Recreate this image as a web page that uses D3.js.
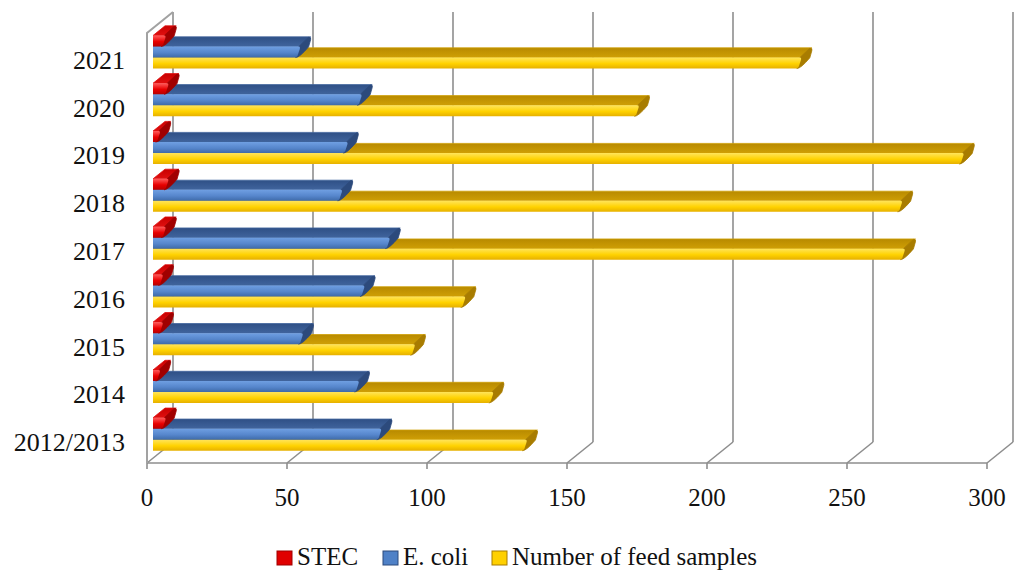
<!DOCTYPE html>
<html>
<head>
<meta charset="utf-8">
<script src="https://cdn.jsdelivr.net/npm/d3@7"></script>
<style>
  html, body { margin: 0; padding: 0; background: #ffffff; }
  svg { display: block; }
  text { font-family: "Palatino Linotype", "Book Antiqua", "Liberation Serif", "DejaVu Serif", serif; fill: #111; }
</style>
</head>
<body>
<svg id="chart" width="1018" height="572"></svg>
<script>
// Categories, top to bottom as drawn
const categories = ["2021", "2020", "2019", "2018", "2017", "2016", "2015", "2014", "2012/2013"];
// Series values per category
const stec        = [4, 5, 2, 5, 4, 3, 3, 2, 4];
const ecoli       = [52, 74, 69, 67, 84, 75, 53, 73, 81];
const feedSamples = [231, 173, 289, 267, 268, 111, 93, 121, 133];
const seriesNames = ["STEC", "E. coli", "Number of feed samples"];
const xTicks = [0, 50, 100, 150, 200, 250, 300];

const seriesValues = [stec, ecoli, feedSamples];

const svg = d3.select("#chart");
const defs = svg.append("defs");

// front plane of the 3D box
const x = d3.scaleLinear().domain([0, 300]).range([147, 987]);
const y = d3.scaleBand().domain(categories).range([33, 463]);

// depth projection of the walls and of the bars
const wall = { dx: 26, dy: -21 };
const barOff = { dx: 6, dy: -4.85 };
const barDepth = { dx: 12, dy: -9.7 };
const barH = 11;
const sub = d3.scaleBand().domain(seriesNames).range([0, barH * 3]);

// shading per series: front face, top face, end face
const palette = {
  "STEC":   { front: ["#ff5a5a", "#e80000", "#b80000"], top: ["#c80000", "#e01010"], end: "#a00000", key: "#e00000" },
  "E. coli":{ front: ["#6f9fe2", "#5686cc", "#3e6aa8"], top: ["#2f5086", "#40649d"], end: "#2c4a7c", key: "#4f81c7" },
  "Number of feed samples": { front: ["#ffe45a", "#ffd200", "#e6b000"], top: ["#b88a00", "#cf9f05"], end: "#a87c00", key: "#ffd000" }
};

seriesNames.forEach((s, i) => {
  const p = palette[s];
  const gf = defs.append("linearGradient").attr("id", "front" + i).attr("x1", 0).attr("y1", 0).attr("x2", 0).attr("y2", 1);
  gf.append("stop").attr("offset", "0%").attr("stop-color", p.front[0]);
  gf.append("stop").attr("offset", "55%").attr("stop-color", p.front[1]);
  gf.append("stop").attr("offset", "100%").attr("stop-color", p.front[2]);
  const gt = defs.append("linearGradient").attr("id", "top" + i).attr("x1", 0).attr("y1", 0).attr("x2", 0).attr("y2", 1);
  gt.append("stop").attr("offset", "0%").attr("stop-color", p.top[0]);
  gt.append("stop").attr("offset", "100%").attr("stop-color", p.top[1]);
});

const grid = svg.append("g").attr("fill", "none").attr("stroke", "#8e8e8e").attr("stroke-width", 1.6);
const y0 = 463, yTop = 33;

// back wall verticals and floor diagonals
xTicks.forEach(t => {
  const fx = x(t);
  grid.append("line").attr("x1", fx + wall.dx).attr("y1", y0 + wall.dy).attr("x2", fx + wall.dx).attr("y2", yTop + wall.dy);
  grid.append("line").attr("x1", fx).attr("y1", y0).attr("x2", fx + wall.dx).attr("y2", y0 + wall.dy);
  grid.append("line").attr("x1", fx).attr("y1", y0).attr("x2", fx).attr("y2", y0 + 6);
});
// front floor edge
grid.append("line").attr("x1", x(0)).attr("y1", y0).attr("x2", x(300)).attr("y2", y0);
// left wall
grid.append("path").attr("stroke", "#a2a2a2").attr("stroke-width", 2)
  .attr("d", `M ${x(0)} ${y0} V ${yTop} L ${x(0) + wall.dx} ${yTop + wall.dy}`);

// bars, drawn bottom category first so upper bars overlap properly
const barsG = svg.append("g");
const catOrder = categories.map((c, i) => i).reverse();
catOrder.forEach(ci => {
  const c = categories[ci];
  const groupTop = y(c) + y.bandwidth() / 2 - barH * 1.5 + barOff.dy;
  [2, 1, 0].forEach(si => {
    const s = seriesNames[si];
    const v = seriesValues[si][ci];
    const xa = x(0) + barOff.dx, xb = x(v) + barOff.dx;
    const yt = groupTop + sub(s), yb = yt + sub.bandwidth();
    const dx = barDepth.dx, dy = barDepth.dy;
    const g = barsG.append("g").attr("stroke-linejoin", "round");
    // top face
    g.append("path")
      .attr("d", `M ${xa} ${yt} L ${xb} ${yt} L ${xb + dx} ${yt + dy} L ${xa + dx} ${yt + dy} Z`)
      .attr("fill", `url(#top${si})`).attr("stroke", palette[s].top[1]).attr("stroke-width", 0.8);
    // end face with a rounded bevel
    g.append("path")
      .attr("d", `M ${xb} ${yt} L ${xb + dx - 2} ${yt + dy + 0.5} Q ${xb + dx + 1} ${yt + dy} ${xb + dx} ${yt + dy + 3} ` +
                 `L ${xb + dx - 2} ${yb + dy - 1} Q ${xb + 1} ${yb} ${xb - 3} ${yb} Z`)
      .attr("fill", palette[s].end).attr("stroke", palette[s].end).attr("stroke-width", 0.8);
    // front face
    g.append("path")
      .attr("d", `M ${xa} ${yt} H ${xb} Q ${xb + 2} ${yt} ${xb + 1} ${yt + 3} L ${xb - 1} ${yb - 2} Q ${xb - 2} ${yb} ${xb - 4} ${yb} H ${xa} Z`)
      .attr("fill", `url(#front${si})`);
  });
});

// category labels
svg.append("g").selectAll("text").data(categories).join("text")
  .attr("x", 125).attr("y", d => y(d) + y.bandwidth() / 2 + 12)
  .attr("text-anchor", "end").attr("font-size", 26).text(d => d);

// value axis labels
svg.append("g").selectAll("text").data(xTicks).join("text")
  .attr("x", d => x(d)).attr("y", 506)
  .attr("text-anchor", "middle").attr("font-size", 25).text(d => d);

// legend
const legendX = [277, 383, 492];
const legend = svg.append("g");
seriesNames.forEach((s, i) => {
  const lg = legend.append("g").attr("transform", `translate(${legendX[i]},0)`);
  lg.append("rect").attr("x", 0).attr("y", 551).attr("width", 15).attr("height", 14)
    .attr("fill", palette[s].key).attr("stroke", palette[s].end).attr("stroke-width", 1);
  lg.append("text").attr("x", 20).attr("y", 565).attr("font-size", 25).text(s);
});
</script>
</body>
</html>
